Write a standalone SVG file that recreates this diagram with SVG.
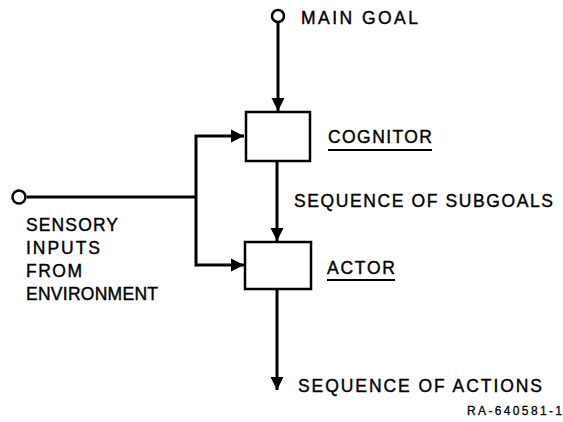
<svg xmlns="http://www.w3.org/2000/svg" width="563" height="422" viewBox="0 0 563 422">
  <style>
    .ln { stroke: #000; stroke-width: 3; fill: none; }
    .box { stroke: #000; stroke-width: 2.5; fill: #fff; }
    .term { stroke: #000; stroke-width: 2.5; fill: #fff; }
    .lbl { font-family: "Liberation Sans", Arial, sans-serif; font-size: 17.5px; fill: #000; stroke: #000; stroke-width: 0.4; }
    .tag { font-family: "Liberation Sans", Arial, sans-serif; font-size: 12px; fill: #000; stroke: #000; stroke-width: 0.3; }
    .ul { stroke: #000; stroke-width: 1.8; }
  </style>
  <defs>
    <marker id="arrow" viewBox="0 0 10 10" refX="10" refY="5" markerWidth="4.5" markerHeight="4.5" markerUnits="strokeWidth" orient="auto">
      <path d="M0,0 L10,5 L0,10 z" fill="#000"/>
    </marker>
  </defs>

  <!-- signal paths -->
  <g id="connectors">
    <line class="ln" x1="278" y1="22" x2="278" y2="111" marker-end="url(#arrow)"/>
    <line class="ln" x1="27" y1="197" x2="196" y2="197"/>
    <polyline class="ln" points="196,197 196,136 244,136" marker-end="url(#arrow)"/>
    <polyline class="ln" points="196,197 196,265 244,265" marker-end="url(#arrow)"/>
    <line class="ln" x1="277" y1="161" x2="277" y2="241" marker-end="url(#arrow)"/>
    <line class="ln" x1="277" y1="289" x2="277" y2="390" marker-end="url(#arrow)"/>
  </g>

  <g id="main-goal">
    <circle class="term" cx="278" cy="16" r="6"/>
    <text class="lbl" x="301" y="24" textLength="117" lengthAdjust="spacing">MAIN GOAL</text>
  </g>

  <g id="sensory-inputs">
    <circle class="term" cx="19" cy="197" r="6.5"/>
    <text class="lbl" x="26" y="231" textLength="92" lengthAdjust="spacing">SENSORY</text>
    <text class="lbl" x="26" y="254" textLength="74" lengthAdjust="spacing">INPUTS</text>
    <text class="lbl" x="26" y="277" textLength="56" lengthAdjust="spacing">FROM</text>
    <text class="lbl" x="26" y="300" textLength="132" lengthAdjust="spacing">ENVIRONMENT</text>
  </g>

  <g id="cognitor">
    <rect class="box" x="246" y="112" width="64" height="49"/>
    <text class="lbl" x="328" y="143" textLength="104" lengthAdjust="spacing">COGNITOR</text>
    <line class="ul" x1="328" y1="150" x2="432" y2="150"/>
  </g>

  <g id="subgoals">
    <text class="lbl" x="294" y="207" textLength="259" lengthAdjust="spacing">SEQUENCE OF SUBGOALS</text>
  </g>

  <g id="actor">
    <rect class="box" x="245" y="242" width="66" height="47"/>
    <text class="lbl" x="327" y="274" textLength="68" lengthAdjust="spacing">ACTOR</text>
    <line class="ul" x1="327" y1="280" x2="395" y2="280"/>
  </g>

  <g id="actions">
    <text class="lbl" x="298" y="392" textLength="244" lengthAdjust="spacing">SEQUENCE OF ACTIONS</text>
  </g>

  <g id="figure-tag">
    <text class="tag" x="467" y="415" textLength="95" lengthAdjust="spacing">RA-640581-1</text>
  </g>
</svg>
